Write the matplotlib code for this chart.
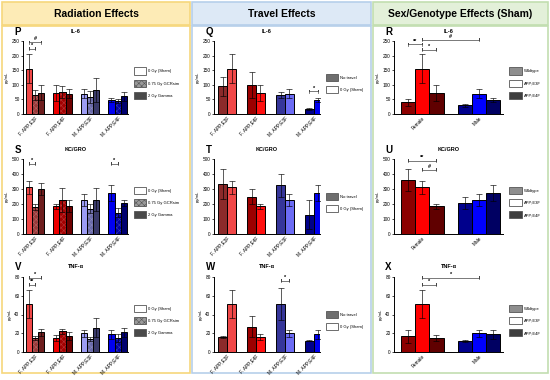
"""Cytokine panels: radiation, travel and sex/genotype effects."""

import matplotlib
matplotlib.use("Agg")
import matplotlib.pyplot as plt
from matplotlib.patches import Patch, Rectangle

plt.rcParams["font.family"] = ["Liberation Sans", "DejaVu Sans"]
plt.rcParams["hatch.linewidth"] = 0.4

# ---------------- data ----------------
groups = ["F. APP;E3F", "F. APP;E4F", "M. APP;E3F", "M. APP;E4F"]
sexes = ["Female", "Male"]

rad_labels = ["0 Gy (Sham)", "0.75 Gy GCRsim", "2 Gy Gamma"]
travel_labels = ["No travel", "0 Gy (Sham)"]
geno_labels = ["Wildtype", "APP;E3F", "APP;E4F"]

# radiation: rows = group, cols = 0 Gy, 0.75 Gy, 2 Gy
il6_rad = [[155, 65, 73], [72, 75, 70], [70, 58, 83], [48, 45, 60]]
il6_rad_err = [[50, 17, 25], [28, 20, 15], [15, 20, 42], [7, 8, 15]]
kc_rad = [[312, 180, 300], [185, 230, 190], [225, 170, 230], [272, 142, 205]]
kc_rad_err = [[42, 22, 38], [15, 80, 40], [40, 30, 75], [55, 30, 20]]
tnf_rad = [[51, 15, 21], [15, 22, 17], [20, 14, 26], [19, 15, 21]]
tnf_rad_err = [[15, 2, 4], [3, 3, 4], [4, 2, 10], [5, 4, 5]]

# travel: rows = group, cols = no travel, sham
il6_trv = [[95, 155], [100, 73], [65, 70], [17, 48]]
il6_trv_err = [[32, 50], [45, 28], [11, 16], [2, 7]]
kc_trv = [[332, 312], [250, 185], [325, 225], [130, 272]]
kc_trv_err = [[100, 42], [52, 15], [75, 40], [95, 55]]
tnf_trv = [[16, 51], [27, 16], [51, 20], [12, 19]]
tnf_trv_err = [[1.5, 15], [11, 3], [17, 4], [0.5, 5]]

# sex/genotype: rows = sex, cols = wildtype, E3F, E4F
il6_sex = [[40, 155, 73], [30, 70, 48]]
il6_sex_err = [[12, 50, 28], [5, 16, 7]]
kc_sex = [[360, 312, 185], [210, 225, 272]]
kc_sex_err = [[75, 42, 15], [40, 40, 55]]
tnf_sex = [[17, 51, 15], [12, 20, 19]]
tnf_sex_err = [[7, 15, 3], [1, 4, 5]]

rad_colors = [["#f04848", "#9a3838", "#6e1e1e"],
              ["#ee0000", "#a40000", "#6e0000"],
              ["#9c9cf4", "#6a6aaa", "#3a3a6a"],
              ["#0000f0", "#0000a4", "#00006e"]]
trv_colors = [["#8c2a2a", "#f04848"],
              ["#9c0000", "#ff1010"],
              ["#36369a", "#6c6cf4"],
              ["#00008a", "#0000f0"]]
sex_colors = [["#8c0000", "#ff0000", "#600000"],
              ["#00008c", "#0000ff", "#000062"]]

# significance marks: (bar a, bar b, height, text), bars indexed (group, bar)
sig = {
    "P": [((0, 0), (0, 1), 224, "*"), ((0, 0), (0, 2), 246, "#")],
    "S": [((0, 0), (0, 1), 470, "*"), ((3, 0), (3, 1), 470, "*")],
    "V": [((0, 0), (0, 1), 72, "**"), ((0, 0), (0, 2), 79, "*")],
    "Q": [((3, 0), (3, 1), 78, "*")],
    "T": [],
    "W": [((2, 0), (2, 1), 76, "*")],
    "R": [((0, 0), (0, 1), 239, "**"), ((0, 1), (0, 2), 220, "*"),
          ((0, 1), (1, 1), 255, "#")],
    "U": [((0, 0), (0, 2), 490, "**"), ((0, 1), (0, 2), 430, "#")],
    "X": [((0, 1), (0, 2), 72, "*"), ((0, 1), (1, 1), 79, "*")],
}

# ---------------- figure ----------------
W, H = 550, 380
fig = plt.figure(figsize=(5.5, 3.8), dpi=100)


def fx(px):
    return px / W


def fy(py):
    return 1 - py / H


columns = [
    (2, 190, "Radiation Effects", "#fdebb6", "#f6d77c"),
    (192, 371, "Travel Effects", "#dde9f6", "#b6cfea"),
    (373, 548, "Sex/Genotype Effects (Sham)", "#e3f0d9", "#c2deb0"),
]
for x0, x1, title, fill, edge in columns:
    fig.patches.append(Rectangle((fx(x0), fy(25)), fx(x1 - x0), 23 / H,
                                 transform=fig.transFigure, facecolor=fill,
                                 edgecolor=edge, linewidth=1.2, zorder=-10))
    fig.patches.append(Rectangle((fx(x0), fy(373)), fx(x1 - x0), 347 / H,
                                 transform=fig.transFigure, facecolor="white",
                                 edgecolor=edge, linewidth=1.2, zorder=-10))
    fig.text(fx((x0 + x1) / 2), fy(14), title, ha="center", va="center",
             fontsize=7.5, fontweight="bold")


def make_ax(left, top, right, bottom):
    ax = fig.add_axes([fx(left), fy(bottom), fx(right - left), (bottom - top) / H])
    ax.spines["top"].set_visible(False)
    ax.spines["right"].set_visible(False)
    for s in ("left", "bottom"):
        ax.spines[s].set_linewidth(0.7)
    ax.tick_params(labelsize=3.4, width=0.5, length=1.5, pad=1)
    ax.set_ylabel("pg/mL", fontsize=3, labelpad=2)
    ax.patch.set_alpha(0)
    return ax


def draw_bars(ax, vals, errs, colors, centers, hatched=None):
    n = len(vals[0])
    pos = {}
    for g, c in enumerate(centers):
        for b in range(n):
            x = c + b - (n - 1) / 2
            pos[(g, b)] = x
            ax.bar(x, vals[g][b], width=1, color=colors[g][b],
                   edgecolor="black", linewidth=0.7, zorder=2)
            if hatched is not None and b == hatched:
                ax.bar(x, vals[g][b], width=1, fill=False, hatch="xxxxxx",
                       edgecolor=(1, 1, 1, 0.22), linewidth=0, zorder=2.5)
                ax.bar(x, vals[g][b], width=1, fill=False,
                       edgecolor="black", linewidth=0.7, zorder=2.6)
            ax.errorbar(x, vals[g][b], yerr=errs[g][b], color="black",
                        elinewidth=0.45, capsize=2.0, capthick=0.45, zorder=3)
    return pos


def draw_sig(ax, pos, marks, ymax):
    dy = ymax * 0.02
    for a, b, y, txt in marks:
        xa, xb = pos[a], pos[b]
        ax.plot([xa, xa, xa, xb, xb, xb], [y - dy, y + dy, y, y, y + dy, y - dy],
                color="#444444", linewidth=0.5, clip_on=False, zorder=4)
        ax.text((xa + xb) / 2, y + dy * 0.5, txt, ha="center", va="bottom",
                fontsize=4, fontweight="bold", clip_on=False)


def legend(ax, handles, labels):
    ax.legend(handles, labels, loc="center left", bbox_to_anchor=(1.04, 0.42),
              frameon=False, fontsize=3.0, handlelength=3.0, handleheight=2.3,
              labelspacing=1.2, handletextpad=0.5, borderaxespad=0)


rad_handles = [Patch(facecolor="white", edgecolor="#555555", linewidth=0.6),
               Patch(facecolor="#9a9a9a", edgecolor="#555555", hatch="xxxxxx",
                     linewidth=0.6),
               Patch(facecolor="#4a4a4a", edgecolor="#555555", linewidth=0.6)]
trv_handles = [Patch(facecolor="#6e6e6e", edgecolor="#555555", linewidth=0.6),
               Patch(facecolor="white", edgecolor="#555555", linewidth=0.6)]
sex_handles = [Patch(facecolor="#8e8e8e", edgecolor="#555555", linewidth=0.6),
               Patch(facecolor="white", edgecolor="#555555", linewidth=0.6),
               Patch(facecolor="#3e3e3e", edgecolor="#555555", linewidth=0.6)]

rows = [(41, 114, "IL-6", 250, 50), (159, 234, "KC/GRO", 500, 100),
        (277, 352, "TNF-\u03b1", 80, 20)]
col_defs = [
    ("rad", 23, 128, "PSV"),
    ("trv", 214, 320, "QTW"),
    ("sex", 394, 503, "RUX"),
]
data = {
    "rad": [(il6_rad, il6_rad_err), (kc_rad, kc_rad_err), (tnf_rad, tnf_rad_err)],
    "trv": [(il6_trv, il6_trv_err), (kc_trv, kc_trv_err), (tnf_trv, tnf_trv_err)],
    "sex": [(il6_sex, il6_sex_err), (kc_sex, kc_sex_err), (tnf_sex, tnf_sex_err)],
}

for kind, left, right, letters in col_defs:
    for r, (top, bottom, name, ymax, step) in enumerate(rows):
        ax = make_ax(left, top, right, bottom)
        vals, errs = data[kind][r]
        letter = letters[r]
        if kind == "rad":
            centers = [0, 4.5, 9, 13.5]
            pos = draw_bars(ax, vals, errs, rad_colors, centers, hatched=1)
            ax.set_xlim(-1.95, 15.2)
            ax.set_xticks(centers)
            ax.set_xticklabels(groups, rotation=45, ha="right",
                               rotation_mode="anchor")
            legend(ax, rad_handles, rad_labels)
        elif kind == "trv":
            centers = [0, 3.3, 6.6, 9.9]
            pos = draw_bars(ax, vals, errs, trv_colors, centers)
            ax.set_xlim(-1.5, 10.6)
            ax.set_xticks(centers)
            ax.set_xticklabels(groups, rotation=45, ha="right",
                               rotation_mode="anchor")
            legend(ax, trv_handles, travel_labels)
        else:
            centers = [0, 4]
            pos = draw_bars(ax, vals, errs, sex_colors, centers)
            ax.set_xlim(-2.0, 5.7)
            ax.set_xticks(centers)
            ax.set_xticklabels(sexes, rotation=45, ha="right",
                               rotation_mode="anchor")
            legend(ax, sex_handles, geno_labels)
        ax.tick_params(axis="x", length=0)
        ax.set_ylim(0, ymax)
        ax.set_yticks(range(0, ymax + 1, step))
        draw_sig(ax, pos, sig[letter], ymax)
        ax.text(0.5, 1.1, name, transform=ax.transAxes, ha="center",
                va="bottom", fontsize=4, fontweight="bold")
        ax.text(-0.08, 1.06, letter, transform=ax.transAxes, ha="left",
                va="bottom", fontsize=7, fontweight="bold")

fig.savefig("out.png", dpi=100)
